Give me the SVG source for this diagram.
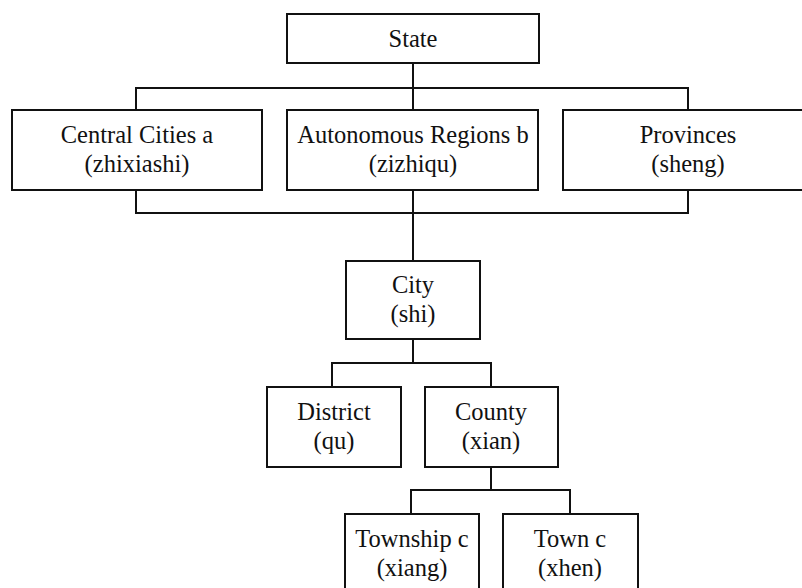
<svg xmlns="http://www.w3.org/2000/svg" width="802" height="588" viewBox="0 0 802 588">
  <style>
    .box { fill: #ffffff; stroke: #111111; stroke-width: 2; }
    .link { fill: none; stroke: #111111; stroke-width: 2; }
    text { font-family: "Liberation Serif", "Times New Roman", serif; font-size: 24.5px; fill: #111111; text-anchor: middle; }
  </style>
  <rect width="802" height="588" fill="#ffffff"/>

  <!-- connectors -->
  <g id="connectors">
    <path class="link" d="M413 63 V111"/>
    <path class="link" d="M136 110 V88 H688 V110"/>
    <path class="link" d="M136 190 V213 H688 V190"/>
    <path class="link" d="M413 190 V261"/>
    <path class="link" d="M413 339 V363"/>
    <path class="link" d="M332 387 V363 H491 V387"/>
    <path class="link" d="M491 467 V490"/>
    <path class="link" d="M411 514 V490 H570 V514"/>
  </g>

  <g id="state">
    <rect class="box" x="287" y="14" width="252" height="49"/>
    <text x="413" y="47">State</text>
  </g>

  <g id="central-cities">
    <rect class="box" x="12" y="110" width="250" height="80"/>
    <text x="137" y="143">Central Cities a</text>
    <text x="137" y="172">(zhixiashi)</text>
  </g>

  <g id="autonomous-regions">
    <rect class="box" x="287" y="110" width="251" height="80"/>
    <text x="413" y="143">Autonomous Regions b</text>
    <text x="413" y="172">(zizhiqu)</text>
  </g>

  <g id="provinces">
    <rect class="box" x="563" y="110" width="250" height="80"/>
    <text x="688" y="143">Provinces</text>
    <text x="688" y="172">(sheng)</text>
  </g>

  <g id="city">
    <rect class="box" x="346" y="261" width="134" height="78"/>
    <text x="413" y="293">City</text>
    <text x="413" y="322">(shi)</text>
  </g>

  <g id="district">
    <rect class="box" x="267" y="387" width="134" height="80"/>
    <text x="334" y="420">District</text>
    <text x="334" y="449">(qu)</text>
  </g>

  <g id="county">
    <rect class="box" x="425" y="387" width="133" height="80"/>
    <text x="491" y="420">County</text>
    <text x="491" y="449">(xian)</text>
  </g>

  <g id="township">
    <rect class="box" x="345" y="514" width="134" height="80"/>
    <text x="412" y="547">Township c</text>
    <text x="412" y="576">(xiang)</text>
  </g>

  <g id="town">
    <rect class="box" x="503" y="514" width="135" height="80"/>
    <text x="570" y="547">Town c</text>
    <text x="570" y="576">(xhen)</text>
  </g>
</svg>
